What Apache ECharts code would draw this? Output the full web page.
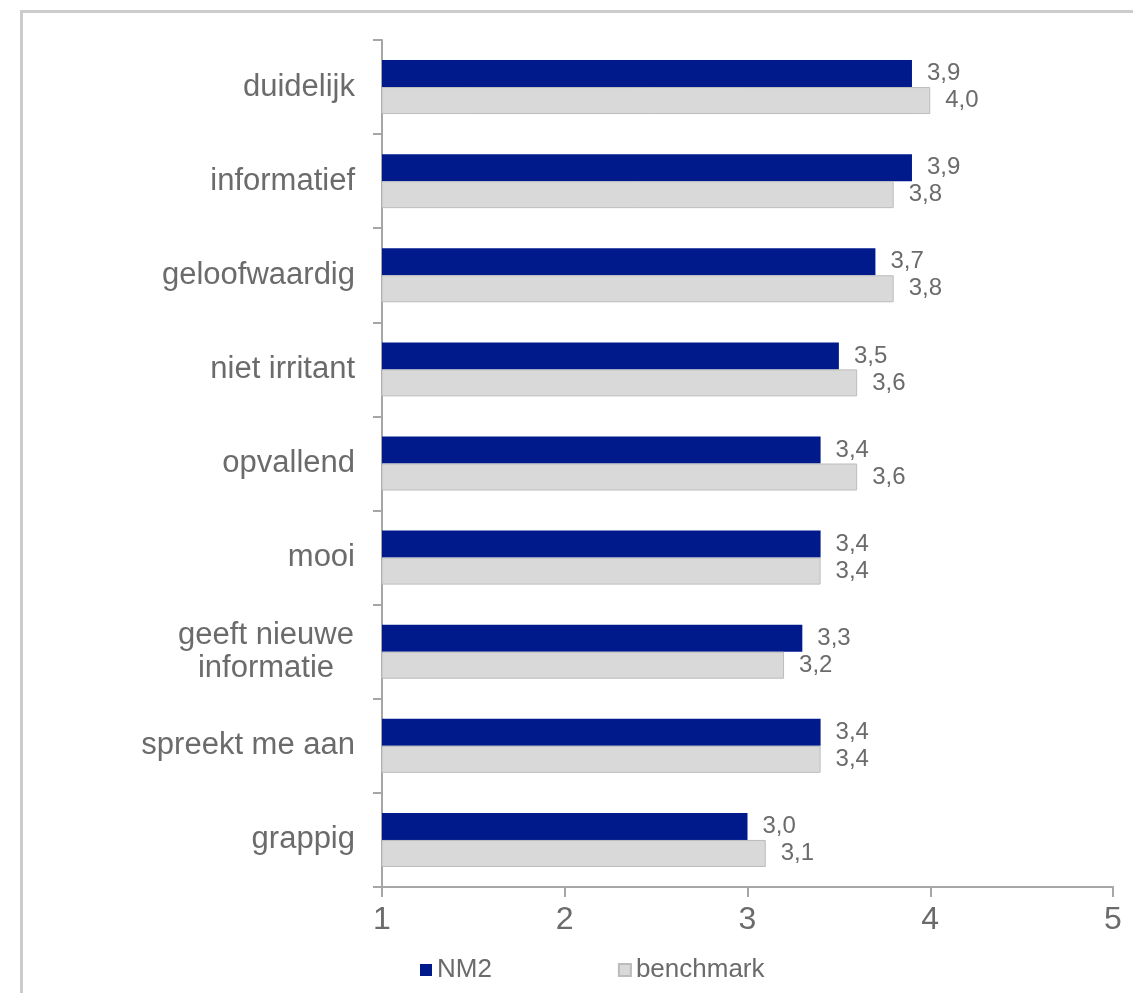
<!DOCTYPE html>
<html>
<head>
<meta charset="utf-8">
<script src="https://cdn.jsdelivr.net/npm/echarts@6/dist/echarts.min.js"></script>
<style>
  html, body { margin: 0; padding: 0; background: #ffffff; }
  #chart { width: 1133px; height: 993px; }
</style>
</head>
<body>
<div id="chart"></div>
<script>
// Beoordeling van de commercial: gemiddelde score per stelling (schaal 1-5)
const categories = [
  'duidelijk',
  'informatief',
  'geloofwaardig',
  'niet irritant',
  'opvallend',
  'mooi',
  'geeft nieuwe\ninformatie',
  'spreekt me aan',
  'grappig'
];
const nm2 = [3.9, 3.9, 3.7, 3.5, 3.4, 3.4, 3.3, 3.4, 3.0];
const benchmark = [4.0, 3.8, 3.8, 3.6, 3.6, 3.4, 3.2, 3.4, 3.1];
const seriesNames = ['NM2', 'benchmark'];
const xTicks = [1, 2, 3, 4, 5];

const FONT = '"Liberation Sans", Arial, sans-serif';
const TEXT = '#6b6b6b';
const AXIS = '#a6a6a6';

const fmt = v => v.toFixed(1).replace('.', ',');

const chart = echarts.init(document.getElementById('chart'));

chart.setOption({
  animation: false,
  backgroundColor: '#ffffff',
  textStyle: { fontFamily: FONT },
  graphic: [{
    type: 'rect',
    left: 19,
    top: 9,
    shape: { width: 1300, height: 1200 },
    style: { fill: 'none', stroke: '#cccccc', lineWidth: 3 },
    silent: true,
    z: -1
  }],
  grid: { left: 382, top: 40, width: 731, height: 847, containLabel: false },
  legend: {
    left: 415,
    top: 952,
    icon: 'rect',
    itemWidth: 12,
    itemHeight: 12,
    itemGap: 126,
    textStyle: { fontFamily: FONT, fontSize: 26, color: TEXT },
    data: seriesNames
  },
  xAxis: {
    type: 'value',
    min: xTicks[0],
    max: xTicks[xTicks.length - 1],
    interval: 1,
    splitLine: { show: false },
    axisLine: { show: true, lineStyle: { color: AXIS, width: 2 } },
    axisTick: { show: true, length: 10, lineStyle: { color: AXIS, width: 2 } },
    axisLabel: { fontFamily: FONT, fontSize: 32, color: TEXT, margin: 17 }
  },
  yAxis: {
    type: 'category',
    inverse: true,
    data: categories,
    axisLine: { show: true, lineStyle: { color: AXIS, width: 2 } },
    axisTick: { show: true, length: 9, lineStyle: { color: AXIS, width: 2 } },
    axisLabel: {
      fontFamily: FONT,
      fontSize: 31,
      color: TEXT,
      margin: 27,
      lineHeight: 33,
      formatter: v => v.indexOf('\n') >= 0
        ? v.split('\n').map(s => '{c|' + s + '}').join('\n')
        : v,
      rich: {
        c: { width: 178, align: 'center', fontFamily: FONT, fontSize: 31, color: TEXT, lineHeight: 33 }
      }
    }
  },
  series: [
    {
      name: seriesNames[0],
      type: 'bar',
      data: nm2,
      barWidth: 27,
      barGap: '0%',
      itemStyle: { color: '#001a8c' },
      label: {
        show: true,
        position: 'right',
        distance: 15,
        fontFamily: FONT,
        fontSize: 24,
        color: TEXT,
        formatter: p => fmt(p.value)
      }
    },
    {
      name: seriesNames[1],
      type: 'bar',
      data: benchmark,
      barWidth: 27,
      barGap: '0%',
      itemStyle: { color: '#d9d9d9', borderColor: '#bcbcbc', borderWidth: 1 },
      label: {
        show: true,
        position: 'right',
        distance: 15,
        fontFamily: FONT,
        fontSize: 24,
        color: TEXT,
        formatter: p => fmt(p.value)
      }
    }
  ]
});
</script>
</body>
</html>
